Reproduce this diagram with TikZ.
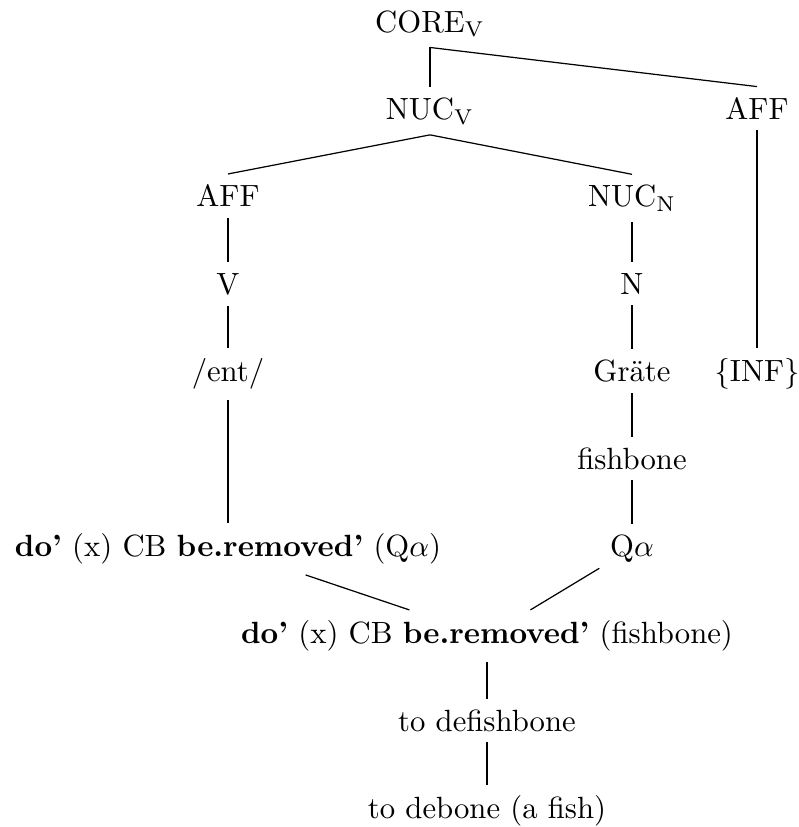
\documentclass[tikz,border=0pt]{standalone}
\begin{document}
\begin{tikzpicture}[x=0.3257pt, y=-0.3257pt,
  lbl/.style={anchor=base},
  branch/.style={draw=black, line width=0.4pt}]
\useasboundingbox (0,0) rectangle (799,827);

% upper tree
\node[lbl] (core)  at (430, 32.0)  {CORE$_{\mathrm{V}}$};
\node[lbl] (nucv)  at (430, 119.4) {NUC$_{\mathrm{V}}$};
\node[lbl] (affr)  at (757, 119.4) {AFF};
\node[lbl] (affl)  at (228, 206.8) {AFF};
\node[lbl] (nucn)  at (632, 206.8) {NUC$_{\mathrm{N}}$};
\node[lbl] (v)     at (228, 294.2) {V};
\node[lbl] (n)     at (632, 294.2) {N};
\node[lbl] (ent)   at (228, 381.6) {/ent/};
\node[lbl] (grate) at (632, 381.6) {Gräte};
\node[lbl] (inf)   at (757, 381.6) {\{INF\}};
\node[lbl] (fish)  at (632, 469.0) {fishbone};
\node[lbl] (dq)    at (228, 556.4) {\textbf{do'} (x) CB \textbf{be.removed'} (Q$\alpha$)};
\node[lbl] (qa)    at (632, 556.4) {Q$\alpha$};

% composed meaning
\node[lbl] (df)     at (487, 643.8) {\textbf{do'} (x) CB \textbf{be.removed'} (fishbone)};
\node[lbl] (defish) at (487, 731.2) {to defishbone};
\node[lbl] (debone) at (487, 818.6) {to debone (a fish)};

% branches
\draw[branch] (core.south) -- (nucv.north);
\draw[branch] (core.south) -- (affr.north);
\draw[branch] (nucv.south) -- (affl.north);
\draw[branch] (nucv.south) -- (nucn.north);
\draw[branch] (affl.south) -- (v.north);
\draw[branch] (v.south) -- (ent.north);
\draw[branch] (ent.south) -- (dq.north);
\draw[branch] (nucn.south) -- (n.north);
\draw[branch] (n.south) -- (grate.north);
\draw[branch] (grate.south) -- (fish.north);
\draw[branch] (fish.south) -- (qa.north);
\draw[branch] (affr.south) -- (inf.north);
\draw[branch] (dq) -- (df);
\draw[branch] (qa) -- (df);
\draw[branch] (df.south) -- (defish.north);
\draw[branch] (defish.south) -- (debone.north);
\end{tikzpicture}
\end{document}
